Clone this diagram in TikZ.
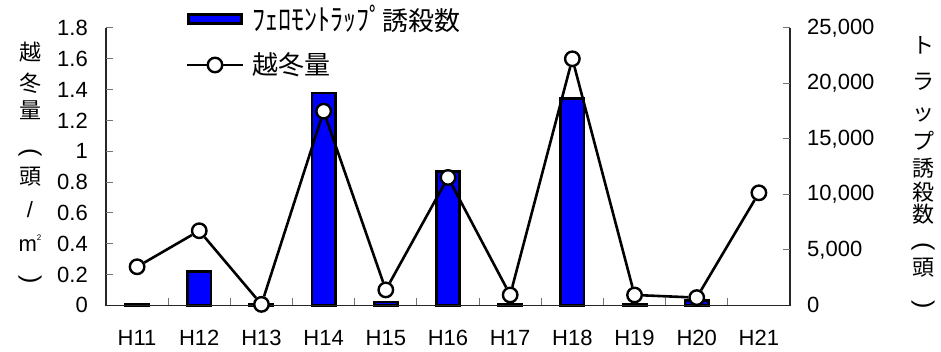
\documentclass[tikz,border=0pt]{standalone}
\usepackage{fontspec}
\setmainfont{Liberation Sans}
\newfontfamily\jp{Noto Sans CJK JP}
\usetikzlibrary{positioning}

\begin{document}
\begin{tikzpicture}[x=1pt, y=1pt,
    bar/.style = {draw=black, line width=2.8pt, fill=blue},
    dot/.style = {circle, draw=black, fill=white, line width=2.4pt, minimum size=14.5pt, inner sep=0pt},
    series/.style = {black, line width=2.6pt},
    axis/.style = {black!85, line width=1.3pt},
    tickmark/.style = {black!55, line width=1pt},
    num/.style = {inner sep=0pt, font=\fontsize{22}{22}\selectfont},
    vch/.style = {inner sep=0pt, font=\jp\fontsize{22}{22}\selectfont},
    paren/.style = {inner sep=0pt, rotate=-90, font=\fontsize{25}{25}\selectfont}]
    \useasboundingbox (0,0) rectangle (941,351);
    \begin{scope}[shift={(106,45.7)}, x=62.18pt, y=154.06pt]
        \foreach \n [count=\i] in {0.05,3.06,0.05,19.13,0.29,12.07,0.05,18.63,0.1,0.41}
            \draw[bar] (\i-0.5-0.187,0) rectangle (\i-0.5+0.187,\n*0.072);
        \draw[axis] (0,1.8) -- (0,0) -- (11,0) -- (11,1.8);
        \foreach \v in {0.2,0.4,...,1.8}
            \draw[tickmark] (0,\v) -- ++(7pt,0);
        \foreach \n in {5,10,...,25}
            \draw[tickmark] (11,\n*0.072) -- ++(-7pt,0);
        \foreach \k in {1,...,10}
            \draw[tickmark] (\k,0) -- ++(0,7pt);
        \foreach \v in {0,0.2,0.4,0.6,0.8,1,1.2,1.4,1.6,1.8}
            \node[num, anchor=east] (l\v) at ([xshift=-18pt]0,\v) {\v};
        \foreach \n/\t in {0/0,5/{5,000},10/{10,000},15/{15,000},20/{20,000},25/{25,000}}
            \node[num, anchor=west] (r\n) at ([xshift=17pt]11,\n*0.072) {\t};
        \foreach \t [count=\i] in {H11,H12,H13,H14,H15,H16,H17,H18,H19,H20,H21}
            \node[num] (c\i) at ([yshift=-32.7pt]\i-0.5,0) {\t};
        \foreach \v [count=\i] in {0.25,0.484,0.006,1.26,0.10,0.83,0.067,1.60,0.067,0.05,0.73}
            \node[dot] (p\i) at (\i-0.5,\v) {};
        \foreach \i [evaluate=\i as \j using int(\i+1)] in {1,...,10}
            \draw[series] (p\i) -- (p\j);
    \end{scope}
    \node[bar, minimum width=53pt, minimum height=9.5pt, inner sep=0pt] (legbar) at (215,332) {};
    \node[inner sep=0pt, anchor=west, font=\jp\fontsize{26}{26}\selectfont] (legbartxt) [right=9pt of legbar] {\scalebox{1}[1.15]{ﾌｪﾛﾓﾝﾄﾗｯﾌﾟ}誘殺数};
    \node[dot] (legdot) at (215,286) {};
    \coordinate (lega) at (187,286);
    \coordinate (legb) at (243,286);
    \draw[series] (lega) -- (legdot) -- (legb);
    \node[inner sep=0pt, anchor=west, font=\jp\fontsize{26}{26}\selectfont] (legdottxt) [right=9pt of legb] {越冬量};
    \foreach \c/\y in {越/52,冬/83,量/110,頭/177}
        \node[vch] (y\y) at (30,351-\y) {\c};
    \node[paren] (ya) at (30,351-153) {(};
    \node[num] (ys) at (30,351-210) {/};
    \node[num] (ym) at (30,351-243) {m\raisebox{0.5em}{\fontsize{8}{8}\selectfont 2}};
    \node[paren] (yb) at (30,351-280) {)};
    \foreach \c/\y in {ト/45,ラ/82,ッ/115,プ/141,誘/168,殺/192,数/214,頭/268}
        \node[vch] (t\y) at (923,351-\y) {\c};
    \node[paren] (ta) at (923,351-247) {(};
    \node[paren] (tb) at (923,351-305) {)};
\end{tikzpicture}
\end{document}
